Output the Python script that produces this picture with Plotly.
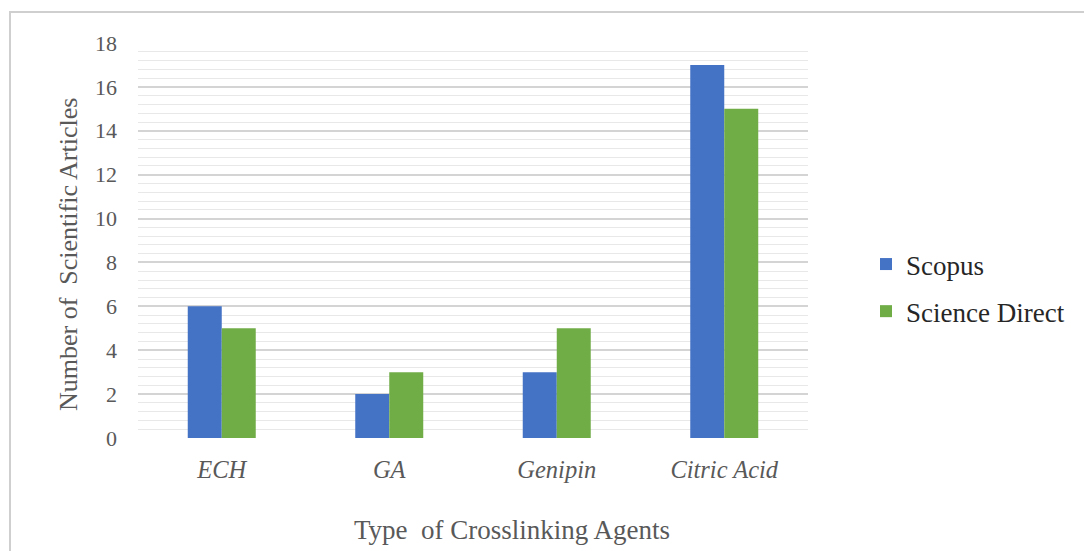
import plotly.graph_objects as go

# Crosslinking agents and article counts per database
agents = ["ECH", "GA", "Genipin", "Citric Acid"]
scopus = [6, 2, 3, 17]
science_direct = [5, 3, 5, 15]
y_ticks = [0, 2, 4, 6, 8, 10, 12, 14, 16, 18]

W, H = 1084, 551
L, R, T, B = 138, 808, 43, 438  # plot area in pixels


def px(x):
    return (x - L) / (R - L)


def py(y):
    return (B - y) / (B - T)


SERIF = "Liberation Serif"
GREY = "#595959"

fig = go.Figure()
fig.add_trace(go.Bar(
    x=[f"<i>{a}</i>" for a in agents], y=scopus, name="Scopus",
    marker=dict(color="#4472C4", line=dict(width=0)), legendgroup="a",
))
fig.add_trace(go.Bar(
    x=[f"<i>{a}</i>" for a in agents], y=science_direct, name="Science Direct",
    marker=dict(color="#70AD47", line=dict(width=0)), legendgroup="b",
))

fig.update_layout(
    width=W, height=H,
    margin=dict(l=L, r=W - R, t=T, b=H - B, pad=0),
    paper_bgcolor="white", plot_bgcolor="white",
    barmode="group", bargap=0.594, bargroupgap=0,
    font=dict(family=SERIF, color=GREY),
    showlegend=True,
    legend=dict(
        x=px(866), y=py(240), xanchor="left", yanchor="top",
        font=dict(family=SERIF, size=27, color="#262626"),
        tracegroupgap=9, itemwidth=30, bgcolor="rgba(0,0,0,0)",
    ),
    xaxis=dict(
        showline=False, ticks="", showgrid=False,
        tickfont=dict(family=SERIF, size=24.5, color=GREY),
        ticklabelstandoff=14,
    ),
    yaxis=dict(
        range=[0, 18], tickvals=y_ticks,
        tickfont=dict(family=SERIF, size=22, color=GREY),
        showgrid=True, gridcolor="#d4d4d4", gridwidth=2,
        zeroline=False, showline=False, ticks="",
        ticklabelstandoff=20,
        minor=dict(dtick=0.4, tick0=0, showgrid=True, gridcolor="#e8e8e8", gridwidth=1),
    ),
    shapes=[
        dict(type="rect", xref="paper", yref="paper",
             x0=px(10), x1=px(W + 20), y0=py(H + 20), y1=py(12),
             line=dict(color="#cfcfcf", width=2), fillcolor="rgba(0,0,0,0)", layer="below"),
    ],
    annotations=[
        dict(text="Number of  Scientific Articles", xref="paper", yref="paper",
             x=px(68), y=py(255), textangle=-90, showarrow=False,
             xanchor="center", yanchor="middle",
             font=dict(family=SERIF, size=26, color=GREY)),
        dict(text="Type  of Crosslinking Agents", xref="paper", yref="paper",
             x=px(512), y=py(530), showarrow=False,
             xanchor="center", yanchor="middle",
             font=dict(family=SERIF, size=27, color=GREY)),
    ],
)

fig.write_html("out.html")
